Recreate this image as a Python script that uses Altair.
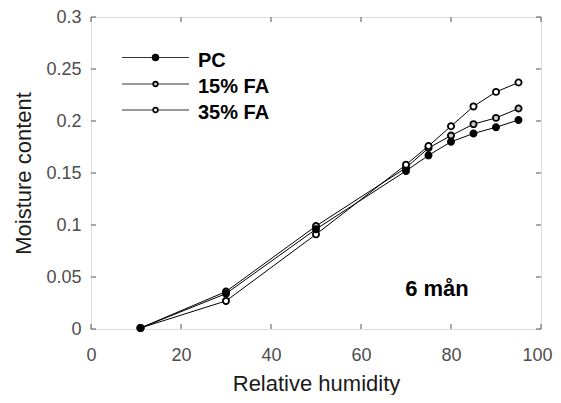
import altair as alt
import pandas as pd

# ---- data ----
rh = [11, 30, 50, 70, 75, 80, 85, 90, 95]
pc = [0.001, 0.034, 0.096, 0.152, 0.167, 0.180, 0.188, 0.194, 0.201]
fa15 = [0.001, 0.036, 0.099, 0.155, 0.174, 0.186, 0.197, 0.203, 0.212]
fa35 = [0.001, 0.027, 0.091, 0.158, 0.176, 0.195, 0.214, 0.228, 0.237]
series_names = ["PC", "15% FA", "35% FA"]
series_fill = ["#000000", "#c8c8c8", "#ffffff"]
x_ticks = [0, 20, 40, 60, 80, 100]
y_ticks = [0, 0.05, 0.1, 0.15, 0.2, 0.25, 0.3]
annotation = "6 mån"

W, H = 450, 312
AX = "#555555"
FONT = "Liberation Sans"

rows = []
for name, vals in zip(series_names, [pc, fa15, fa35]):
    for x, y in zip(rh, vals):
        rows.append({"rh": x, "mc": y, "series": name})
df = pd.DataFrame(rows)

xs = alt.Scale(domain=[0, 100], nice=False, zero=False)
ys = alt.Scale(domain=[0, 0.3], nice=False, zero=False)

xaxis = alt.Axis(values=x_ticks, tickSize=0, grid=False, domain=False, labelFlush=False,
                 labelOffset={"condition": {"test": "datum.value == 100", "value": -4}, "value": 0},
                 labelFont=FONT, labelFontSize=18, labelColor="#4d4d4d", labelPadding=17,
                 title="Relative humidity", titleFont=FONT, titleFontSize=22,
                 titleFontWeight="normal", titleColor="#1a1a1a",
                 titleX=W / 2, titleY=61, titleBaseline="alphabetic", titleAlign="center")
yaxis = alt.Axis(values=y_ticks, tickSize=0, grid=False, domain=False, labelFlush=False,
                 labelFont=FONT, labelFontSize=18, labelColor="#4d4d4d", labelPadding=10,
                 labelExpr="datum.value == 0 ? '0' : format(datum.value, '.2~f')",
                 title="Moisture content", titleFont=FONT, titleFontSize=22,
                 titleFontWeight="normal", titleColor="#1a1a1a",
                 titleX=-68, titleY=H / 2, titleAngle=270,
                 titleBaseline="middle", titleAlign="center")

color_scale = alt.Scale(domain=series_names, range=series_fill)

lines = alt.Chart(df).mark_line(color="#000000", strokeWidth=1).encode(
    x=alt.X("rh:Q", scale=xs, axis=xaxis),
    y=alt.Y("mc:Q", scale=ys, axis=yaxis),
    detail="series:N",
)

points = alt.Chart(df).mark_point(shape="circle", filled=True, stroke="#000000",
                                  strokeWidth=1.8, size=38, opacity=1).encode(
    x=alt.X("rh:Q", scale=xs),
    y=alt.Y("mc:Q", scale=ys),
    fill=alt.Fill("series:N", scale=color_scale, legend=None),
    order=alt.Order("series:N"),
)

# inward tick marks on all four sides
xt = pd.DataFrame({"t": x_ticks})
yt = pd.DataFrame({"t": y_ticks})
tick_len = 5
bt = alt.Chart(xt).mark_rule(color=AX, strokeWidth=1).encode(
    x=alt.X("t:Q", scale=xs), y=alt.value(H), y2=alt.value(H - tick_len))
tt = alt.Chart(xt).mark_rule(color=AX, strokeWidth=1).encode(
    x=alt.X("t:Q", scale=xs), y=alt.value(0), y2=alt.value(tick_len))
lt = alt.Chart(yt).mark_rule(color=AX, strokeWidth=1).encode(
    y=alt.Y("t:Q", scale=ys), x=alt.value(0), x2=alt.value(tick_len))
rt = alt.Chart(yt).mark_rule(color=AX, strokeWidth=1).encode(
    y=alt.Y("t:Q", scale=ys), x=alt.value(W), x2=alt.value(W - tick_len))

# manual legend
leg_rows = [40.5, 67, 93]
legend_layers = []
for name, fill, yy in zip(series_names, series_fill, leg_rows):
    d = pd.DataFrame({"name": [name]})
    legend_layers.append(alt.Chart(d).mark_rule(color="#333333", strokeWidth=1).encode(
        x=alt.value(31), x2=alt.value(98), y=alt.value(yy)))
    legend_layers.append(alt.Chart(d).mark_point(shape="circle", filled=True, fill=fill,
                                                 stroke="#000000", strokeWidth=1.6,
                                                 size=22 if fill != "#000000" else 34,
                                                 opacity=1).encode(
        x=alt.value(64.5), y=alt.value(yy)))
    legend_layers.append(alt.Chart(d).mark_text(align="left", baseline="alphabetic",
                                                font=FONT, fontSize=20, fontWeight="bold",
                                                color="#000000").encode(
        x=alt.value(107), y=alt.value(yy + 9), text="name:N"))

ann = alt.Chart(pd.DataFrame({"t": [annotation]})).mark_text(
    align="center", baseline="alphabetic", font=FONT, fontSize=22, fontWeight="bold",
    color="#000000").encode(x=alt.value(346), y=alt.value(279), text="t:N")

chart = alt.layer(lines, points, bt, tt, lt, rt, *legend_layers, ann).properties(
    width=W, height=H,
    autosize=alt.AutoSizeParams(type="none"),
    padding={"left": 83, "top": 9, "right": 12, "bottom": 66},
).configure_view(stroke=AX, strokeWidth=1.5).configure(background="#ffffff")

chart.save("out.html", embed_options={"renderer": "svg", "actions": False})
